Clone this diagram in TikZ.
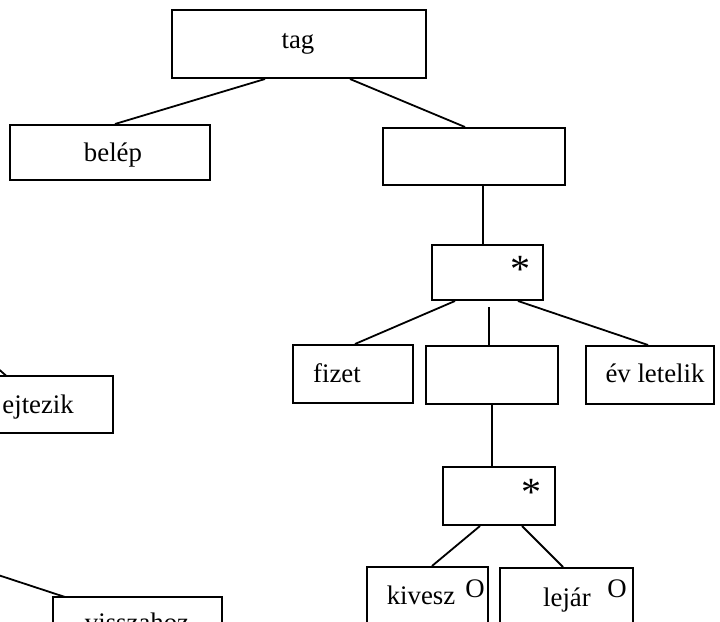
\documentclass[tikz,border=0pt]{standalone}
\usepackage{fontspec}
\setmainfont{Liberation Serif}
\usetikzlibrary{fit,calc}
\begin{document}
\begin{tikzpicture}[x=0.5pt,y=-0.5pt,
  box/.style={draw, line width=1pt, inner sep=0pt},
  txt/.style={anchor=base, inner sep=0pt, font=\fontsize{13.4}{16}\selectfont},
  starmark/.style={anchor=base, inner sep=0pt, font=\fontsize{20}{24}\selectfont},
  conn/.style={line width=0.9pt}]
\useasboundingbox (0,0) rectangle (720,622);
% boxes
\node[box, fit={(172,10)(426,78)}] (tag) {};
\node[box, fit={(10,125)(210,180)}] (belep) {};
\node[box, fit={(383,128)(565,185)}] (e1) {};
\node[box, fit={(432,245)(543,300)}] (s1) {};
\node[box, fit={(293,345)(413,403)}] (fizet) {};
\node[box, fit={(426,346)(558,404)}] (e2) {};
\node[box, fit={(586,346)(714,404)}] (ev) {};
\node[box, fit={(443,467)(555,525)}] (s2) {};
\node[box, fit={(367,567)(488,700)}] (kivesz) {};
\node[box, fit={(500,568)(633,700)}] (lejar) {};
\node[box, fit={(-100,376)(113,433)}] (rejt) {};
\node[box, fit={(53,597)(222,700)}] (vissza) {};
% texts
\node[txt] (ttag) at (298,48) {tag};
\node[txt] (tbelep) at (113,161) {belép};
\node[starmark] (st1) at (520,282) {*};
\node[txt] (tfizet) at (337,382) {fizet};
\node[txt] (tev) at (655,382) {év letelik};
\node[starmark] (st2) at (532,505) {*};
\node[txt] (tkivesz) at (421,604) {kivesz};
\node[txt] (okivesz) at (475,597) {O};
\node[txt] (tlejar) at (567,606) {lejár};
\node[txt] (olejar) at (617,597) {O};
\node[txt, anchor=base west] (trejt) at (2,413) {ejtezik};
\node[txt] (tvissza) at (137,631) {visszahoz};
% free ends
\coordinate (c1) at (-5,366);
\coordinate (c2) at (-5,574);
% connectors
\draw[conn] ($(tag.south)+(-34,0)$) -- ($(belep.north)+(5,0)$);
\draw[conn] ($(tag.south)+(51,0)$) -- ($(e1.north)+(-9,0)$);
\draw[conn] ($(e1.south)+(9,0)$) -- ($(s1.north)+(-4.5,0)$);
\draw[conn] ($(s1.south)+(-32.5,0)$) -- ($(fizet.north)+(2,0)$);
\draw[conn] ($(s1.south)+(1.5,6)$) -- ($(e2.north)+(-3,0)$);
\draw[conn] ($(s1.south)+(30.5,0)$) -- ($(ev.north)+(-2,0)$);
\draw[conn] ($(e2.south)+(0,0)$) -- ($(s2.north)+(-7,0)$);
\draw[conn] ($(s2.south)+(-19,0)$) -- ($(kivesz.north)+(4.5,0)$);
\draw[conn] ($(s2.south)+(23,0)$) -- ($(lejar.north)+(-3.5,0)$);
\draw[conn] (c1) -- (13,376 -| rejt.north);
\draw[conn] (c2) -- (65,597);
\end{tikzpicture}
\end{document}
